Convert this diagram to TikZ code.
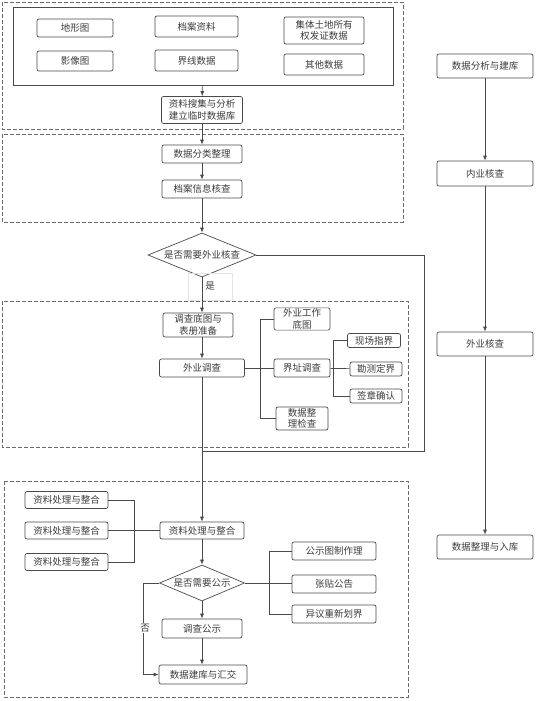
\documentclass[tikz,border=0pt]{standalone}
\usepackage{fontspec}
\usepackage{xcolor}
\usetikzlibrary{shapes.geometric, arrows.meta, positioning, calc}
\newfontfamily\cjk{Noto Sans CJK SC}
\definecolor{linegray}{HTML}{4A4A4A}
\definecolor{textgray}{HTML}{3C3C3C}
\definecolor{dashgray}{HTML}{6A6A6A}

\begin{document}
\begin{tikzpicture}[x=1pt, y=-1pt,
    box/.style={rectangle, rounded corners=2pt, draw=linegray, line width=0.7pt, fill=white,
                inner sep=1pt, align=center, text=textgray,
                font=\cjk\fontsize{9.5}{11.5}\selectfont},
    decision/.style={diamond, draw=linegray, line width=0.7pt, fill=white, inner sep=0pt,
                text=textgray, font=\cjk\fontsize{9.5}{11.5}\selectfont},
    dashframe/.style={draw=dashgray, dashed, dash pattern=on 4pt off 2pt, line width=0.8pt},
    link/.style={draw=linegray, line width=0.7pt},
    arr/.style={link, -{Latex[length=5pt, width=4pt]}}]
  \useasboundingbox (0,0) rectangle (541,701);

  % ===== Top: source data =====
  \draw[dashframe] (2,2) rectangle (403,129);
  \node[rectangle, draw=linegray, line width=0.7pt, minimum width=380pt, minimum height=78pt]
        (srcframe) at (203,46) {};

  \node[box, minimum width=76pt, minimum height=18pt] (dxt)  at (75,28)    {地形图};
  \node[box, minimum width=76pt, minimum height=20pt] (yxt)  at (75,61)    {影像图};
  \node[box, minimum width=83pt, minimum height=21pt] (dazl) at (196.5,26.5) {档案资料};
  \node[box, minimum width=83pt, minimum height=21pt] (jxsj) at (196.5,60.5) {界线数据};
  \node[box, minimum width=80pt, minimum height=27pt] (jtsy) at (324,30.5)  {集体土地所有\\权发证数据};
  \node[box, minimum width=80pt, minimum height=21pt] (qtsj) at (324,64.5)  {其他数据};

  \node[box, minimum width=81pt, minimum height=27pt] (sjss) at (202,110) {资料搜集与分析\\建立临时数据库};
  \draw[arr] (srcframe) -- (sjss);

  % ===== Office check =====
  \draw[dashframe] (2,134) rectangle (403,222);
  \node[box, minimum width=80pt, minimum height=18pt] (sjfl) at (202,154) {数据分类整理};
  \node[box, minimum width=80pt, minimum height=18pt] (daxx) at (202,189) {档案信息核查};
  \draw[arr] (sjss) -- (sjfl);
  \draw[arr] (sjfl) -- (daxx);

  \node[decision, aspect=2.45, minimum width=108pt, minimum height=44pt] (sfwy) at (202,255) {是否需要外业核查};
  \draw[arr] (daxx) -- (sfwy);

  % ===== Field survey =====
  \draw[dashframe] (2,301) rectangle (408,447);
  \node[box, minimum width=70pt, minimum height=24pt] (dcdt) at (198,325) {调查底图与\\表册准备};
  \node[box, minimum width=85pt, minimum height=18pt] (wydc) at (202,368) {外业调查};
  \node[draw=gray!20, line width=0.5pt, minimum width=44pt, minimum height=27pt, inner sep=0pt,
        text=textgray, font=\cjk\fontsize{9.5}{11}\selectfont] (shi) at (210,286.5) {是};
  \draw[arr] (sfwy) -- (dcdt.north -| sfwy);
  \draw[arr] (dcdt.south -| wydc) -- (wydc);

  \node[box, minimum width=56pt, minimum height=22pt] (wygz) at (302,319)   {外业工作\\底图};
  \node[box, minimum width=56pt, minimum height=18pt] (jzdc) at (302,368)   {界址调查};
  \node[box, minimum width=52pt, minimum height=23pt] (sjjc) at (302,418.5) {数据整\\理检查};
  \draw[link] (wydc) -- (jzdc);
  \draw[link] (wygz.west) -- ++(-13,0) |- (sjjc.west);

  \node[box, minimum width=53pt, minimum height=14pt] (xczj) at (374,340.5) {现场指界};
  \node[box, minimum width=52pt, minimum height=14pt] (kcdj) at (376,369)   {勘测定界};
  \node[box, minimum width=52pt, minimum height=14pt] (qzqr) at (376,396)   {签章确认};
  \draw[link] (jzdc) -- (kcdj);
  \draw[link] (xczj.west) -- ++(-14,0) |- (qzqr.west);

  % skip branch back to the main line
  \coordinate (rejoin) at (202,451);
  \draw[link] (sfwy.east) -| (424,451) -- (rejoin);

  % ===== Processing and publication =====
  \draw[dashframe] (4,481) rectangle (408,697);
  \foreach \i/\y in {1/500, 2/530.5, 3/562} {
    \node[box, minimum width=83pt, minimum height=17pt] (zlcl\i) at (66.5,\y) {资料处理与整合};
  }
  \node[box, minimum width=84pt, minimum height=17pt] (zlzh) at (202,530.5) {资料处理与整合};
  \draw[arr] (wydc) -- (zlzh);
  \draw[link] (zlcl2) -- (zlzh);
  \draw[link] (zlcl1.east) -- ++(26,0) |- (zlcl3.east);

  \node[decision, aspect=2.36, minimum width=85pt, minimum height=36pt] (sfgs) at (202,583) {是否需要公示};
  \draw[arr] (zlzh) -- (sfgs);

  \node[box, minimum width=84pt, minimum height=18pt] (gstz) at (334,551) {公示图制作理};
  \node[box, minimum width=84pt, minimum height=18pt] (ztgg) at (334,584) {张贴公告};
  \node[box, minimum width=84pt, minimum height=18pt] (yycx) at (334,614) {异议重新划界};
  \draw[link] (sfgs) -- (ztgg.west |- sfgs);
  \draw[link] (gstz.west) -- ++(-22,0) |- (yycx.west);

  \node[box, minimum width=80pt, minimum height=19pt] (dcgs) at (202,628.5) {调查公示};
  \node[box, minimum width=88pt, minimum height=19pt] (sjjk) at (203,674.5) {数据建库与汇交};
  \draw[arr] (sfgs) -- (dcgs);
  \draw[arr] (dcgs) -- (dcgs |- sjjk.north);
  \draw[arr] (sfgs.west) -- ++(-16,0) |- (sjjk.west);
  \node[fill=white, inner sep=1pt, text=textgray, font=\cjk\fontsize{9.5}{11}\selectfont] (fou) at (145,628) {否};

  % ===== Right column: overall flow =====
  \node[box, minimum width=96pt, minimum height=24pt] (sjfx) at (485,66)    {数据分析与建库};
  \node[box, minimum width=96pt, minimum height=25pt] (nyhc) at (485,173.5) {内业核查};
  \node[box, minimum width=96pt, minimum height=24pt] (wyhc) at (485,344)   {外业核查};
  \node[box, minimum width=96pt, minimum height=24pt] (sjrk) at (485,547)   {数据整理与入库};
  \draw[arr] (sjfx) -- (nyhc);
  \draw[arr] (nyhc) -- (wyhc);
  \draw[arr] (wyhc) -- (sjrk);
\end{tikzpicture}
\end{document}
